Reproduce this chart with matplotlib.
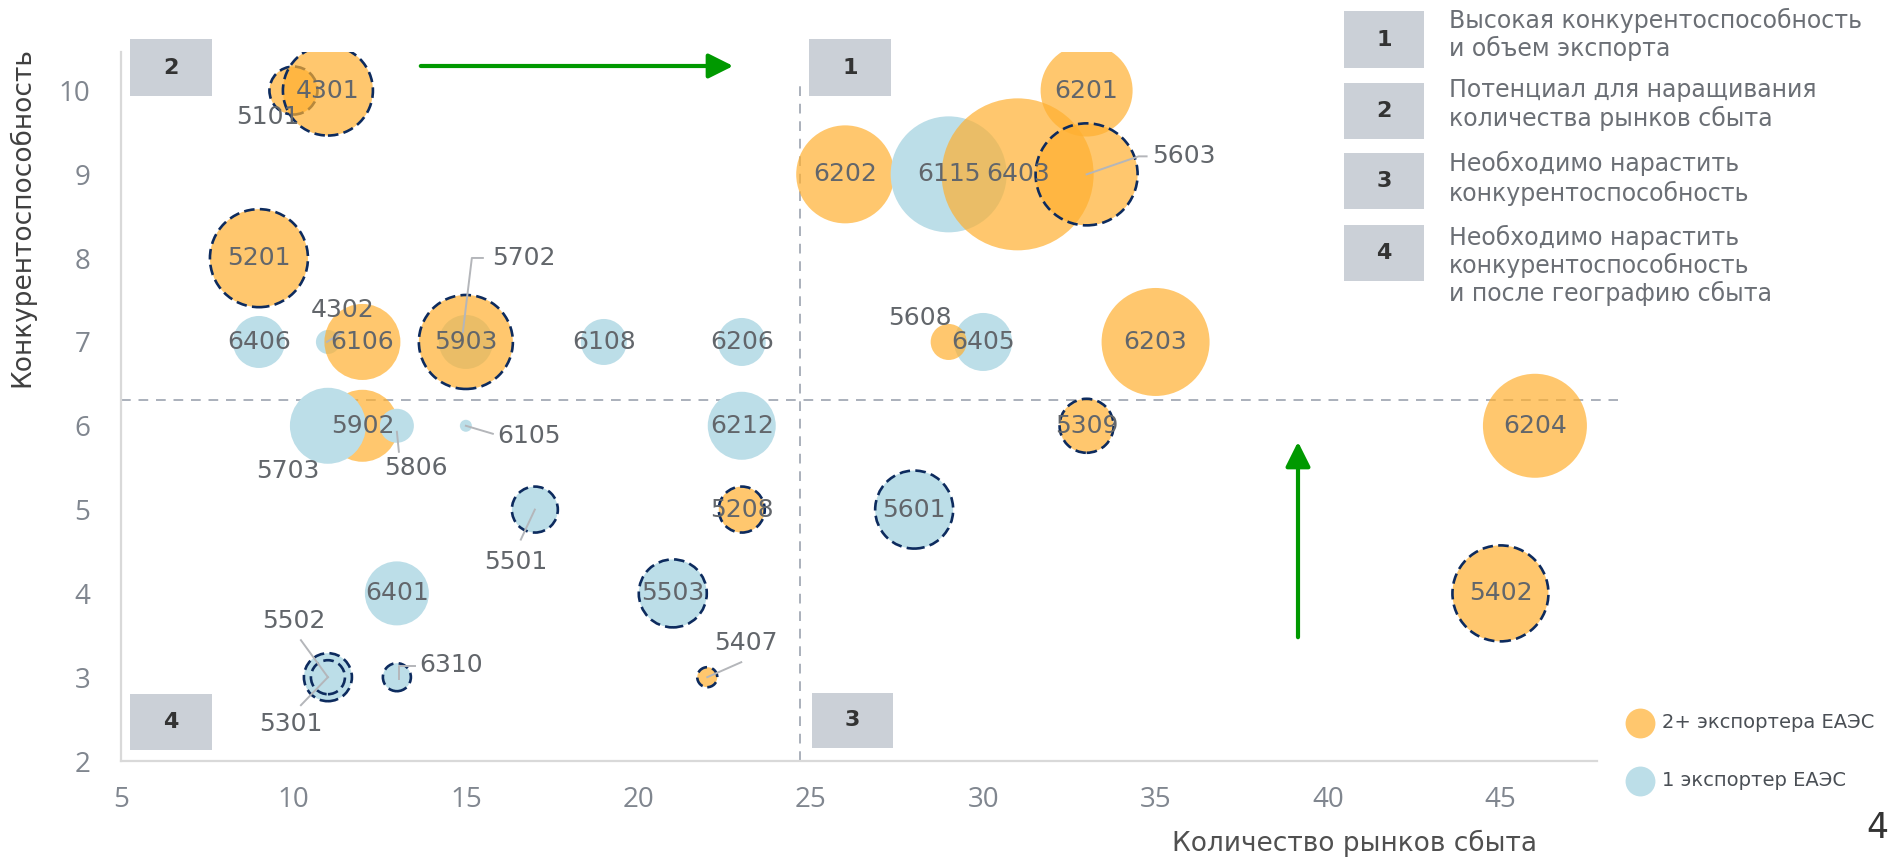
import matplotlib
matplotlib.use("Agg")
import matplotlib.pyplot as plt
from matplotlib.patches import Rectangle, FancyArrowPatch
from matplotlib.lines import Line2D
from matplotlib.transforms import IdentityTransform

# ---------------- data ----------------
codes = ["5101", "4301", "5201", "6406", "4302", "6106", "5702", "5903", "6108", "6206",
         "5902", "5703", "5806", "6105", "6212", "5501", "5208", "6401", "5503", "5502",
         "5301", "6310", "5407", "6202", "6115", "6403", "6201", "5603", "6405", "5608",
         "6203", "5309", "6204", "5601", "5402"]
markets = [10, 11, 9, 9, 11, 12, 15, 15, 19, 23,
           12, 11, 13, 15, 23, 17, 23, 13, 21, 11,
           11, 13, 22, 26, 29, 31, 33, 33, 30, 29,
           35, 33, 46, 28, 45]
competitiveness = [10, 10, 8, 7, 7, 7, 7, 7, 7, 7,
                   6, 6, 6, 6, 6, 5, 5, 4, 4, 3,
                   3, 3, 3, 9, 9, 9, 10, 9, 7, 7,
                   7, 6, 6, 5, 4]
exporters = ["2+", "2+", "2+", "1", "1", "2+", "1", "2+", "1", "1",
             "2+", "1", "1", "1", "1", "1", "2+", "1", "1", "1",
             "1", "1", "2+", "2+", "1", "2+", "2+", "2+", "1", "2+",
             "2+", "2+", "2+", "1", "2+"]
export_volume = [24, 45, 49, 26, 12, 38, 27, 47, 23, 24,
                 36, 38, 17, 6, 34, 23, 23, 32, 34, 24,
                 17, 14, 10, 49, 58, 76, 46, 51, 29, 18,
                 54, 27, 52, 39, 48]
outlined = ["5101", "4301", "5201", "5903", "5501", "5208", "5503", "5502", "5301",
            "6310", "5407", "5603", "5309", "5601", "5402"]

x_ticks = [5, 10, 15, 20, 25, 30, 35, 40, 45]
y_ticks = [2, 3, 4, 5, 6, 7, 8, 9, 10]
x_threshold = 24.7
y_threshold = 6.31

x_title = "Количество рынков сбыта"
y_title = "Конкурентоспособность"
legend_labels = {"2+": "2+ экспортера ЕАЭС", "1": "1 экспортер ЕАЭС"}
quadrant_texts = [
    ("1", ["Высокая конкурентоспособность", "и объем экспорта"]),
    ("2", ["Потенциал для наращивания", "количества рынков сбыта"]),
    ("3", ["Необходимо нарастить", "конкурентоспособность"]),
    ("4", ["Необходимо нарастить", "конкурентоспособность", "и после географию сбыта"]),
]

# ---------------- style / layout ----------------
W, H, DPI = 1893, 860, 100
ORANGE = (1.0, 0.69, 0.19, 0.70)
BLUE = (0.737, 0.871, 0.910, 1.0)
NAVY = "#0d2b5e"
LABEL_C = "#62666b"
LEADER_C = "#b4b6ba"
BOX_C = "#cbd0d7"
GREEN = "#009900"
FONT = "DejaVu Sans"
TICKFONT = ["Liberation Sans Narrow", "Open Sans", "DejaVu Sans"]

def fx(px):
    return px / W

def fy(py):
    return 1 - py / H

fig = plt.figure(figsize=(W / DPI, H / DPI), dpi=DPI)
ax = fig.add_axes([fx(121), fy(761), (1597 - 121) / W, (761 - 52) / H])
ax.set_xlim(5, 47.8)
ax.set_ylim(2, 10.46)

# bubbles, in drawing order
for c, xv, yv, g, v in zip(codes, markets, competitiveness, exporters, export_volume):
    face = ORANGE if g == "2+" else BLUE
    s = (2 * v * 72 / DPI) ** 2
    if c in outlined:
        ax.scatter([xv], [yv], s=s, facecolors=[face], edgecolors=NAVY,
                   linewidths=1.9, linestyles=(0, (4, 2)), zorder=3)
    else:
        ax.scatter([xv], [yv], s=s, facecolors=[face], edgecolors="none", zorder=3)

# quadrant lines
ax.plot([x_threshold, x_threshold], [2, 10.14], color="#aab0bb", lw=1.4,
        ls=(0, (5, 4)), zorder=1)
ax.plot([5, 48.4], [y_threshold, y_threshold], color="#aab0bb", lw=1.4,
        ls=(0, (5, 4)), zorder=1, clip_on=False)

# axes styling
for sp in ["top", "right"]:
    ax.spines[sp].set_visible(False)
for sp in ["left", "bottom"]:
    ax.spines[sp].set_color("#d9d9d9")
    ax.spines[sp].set_linewidth(1.6)
ax.set_xticks(x_ticks)
ax.set_yticks(y_ticks)
ax.tick_params(length=0, colors="#80868f")
ax.tick_params(axis="y", pad=22)
ax.tick_params(axis="x", pad=18)
for t in ax.get_xticklabels() + ax.get_yticklabels():
    t.set_fontfamily(TICKFONT)
    t.set_fontsize(20)
    t.set_color("#80868f")

fig.canvas.draw()

# label placement: offsets in pixels (dx right, dy up), alignment, leader polyline
label_layout = {
    "5101": ((-26, -26), "center", None),
    "4302": ((15, 32), "center", [(15, 10), (-1, 0)]),
    "5702": ((26, 84), "left", [(17, 84), (6, 84), (-3, 10)]),
    "5703": ((-40, -45), "center", None),
    "5806": ((19, -42), "center", [(2, -26), (0, -6)]),
    "6105": ((31, -10), "left", [(0, 0), (27, -8)]),
    "5501": ((-19, -52), "center", [(0, 0), (-14, -30)]),
    "5502": ((-34, 56), "center", [(0, 0), (-27, 37)]),
    "5301": ((-37, -47), "center", [(0, 0), (-27, -28)]),
    "6310": ((22, 12), "left", [(18, 11), (2, 11), (2, -2)]),
    "5407": ((39, 34), "center", [(0, 0), (34, 15)]),
    "5603": ((66, 18), "left", [(0, 0), (52, 18), (60, 18)]),
    "5608": ((-29, 24), "center", None),
}

for c, xv, yv in zip(codes, markets, competitiveness):
    cx, cy = ax.transData.transform((xv, yv))
    (dx, dy), ha, leader = label_layout.get(c, ((0, 0), "center", None))
    fig.text(fx(cx + dx), (cy + dy) / H, c, ha=ha, va="center", fontsize=18,
             color=LABEL_C, family=FONT, zorder=5)
    if leader:
        fig.add_artist(Line2D([cx + p[0] for p in leader], [cy + p[1] for p in leader],
                              color=LEADER_C, lw=1.4, transform=IdentityTransform(),
                              zorder=4))

# quadrant boxes on the plot
qboxes = {"2": (130, 39, 212, 96), "1": (809, 39, 891, 96),
          "4": (130, 694, 212, 750), "3": (812, 693, 893, 748)}
for num, (x0, y0, x1, y1) in qboxes.items():
    fig.add_artist(Rectangle((fx(x0), fy(y1)), (x1 - x0) / W, (y1 - y0) / H,
                             transform=fig.transFigure, color=BOX_C, lw=0, zorder=2))
    fig.text(fx((x0 + x1) / 2), fy((y0 + y1) / 2), num, ha="center", va="center",
             fontsize=16, fontweight="bold", color="#333333", family=FONT, zorder=3)

# right-hand explanation
rboxes = [(11, 68), (83, 139), (153, 209), (225, 281)]
rlines = [[20, 48], [90, 118], [163, 193], [237, 265, 293]]
for (num, lines), (y0, y1), ys in zip(quadrant_texts, rboxes, rlines):
    fig.add_artist(Rectangle((fx(1344), fy(y1)), (1424 - 1344) / W, (y1 - y0) / H,
                             transform=fig.transFigure, color=BOX_C, lw=0))
    fig.text(fx(1384), fy((y0 + y1) / 2), num, ha="center", va="center", fontsize=16,
             fontweight="bold", color="#333333", family=FONT)
    for line, yy in zip(lines, ys):
        fig.text(fx(1449), fy(yy), line, ha="left", va="center", fontsize=17,
                 color="#6b6f75", family=FONT)

# green arrows
fig.add_artist(FancyArrowPatch(
    (fx(418), fy(66)), (fx(736), fy(66)), transform=fig.transFigure,
    arrowstyle="-|>,head_length=1.0,head_width=0.5", mutation_scale=15,
    color=GREEN, lw=3.0))
fig.add_artist(FancyArrowPatch(
    (fx(1298), fy(640)), (fx(1298), fy(439)), transform=fig.transFigure,
    arrowstyle="-|>,head_length=1.0,head_width=0.5", mutation_scale=15,
    color=GREEN, lw=3.0))

# axis titles
fig.text(fx(22), fy(217), y_title, rotation=90, ha="center", va="center",
         fontsize=19, color="#404040", family=FONT)
fig.text(fx(1355), fy(843), x_title, ha="center", va="center",
         fontsize=19, color="#505050", family=FONT)

# legend
for (g, lab), yy in zip(legend_labels.items(), [723, 781]):
    fig.add_artist(Line2D([fx(1640)], [fy(yy)], marker="o", markersize=21.5,
                          markerfacecolor=ORANGE if g == "2+" else BLUE,
                          markeredgecolor="none", transform=fig.transFigure))
    fig.text(fx(1662), fy(yy), lab, ha="left", va="center", fontsize=14,
             color="#4a4f55", family=FONT)

# page number
fig.text(fx(1877), fy(828), "4", ha="center", va="center", fontsize=25,
         color="#333333", family=FONT)

fig.savefig("out.png", dpi=DPI)
